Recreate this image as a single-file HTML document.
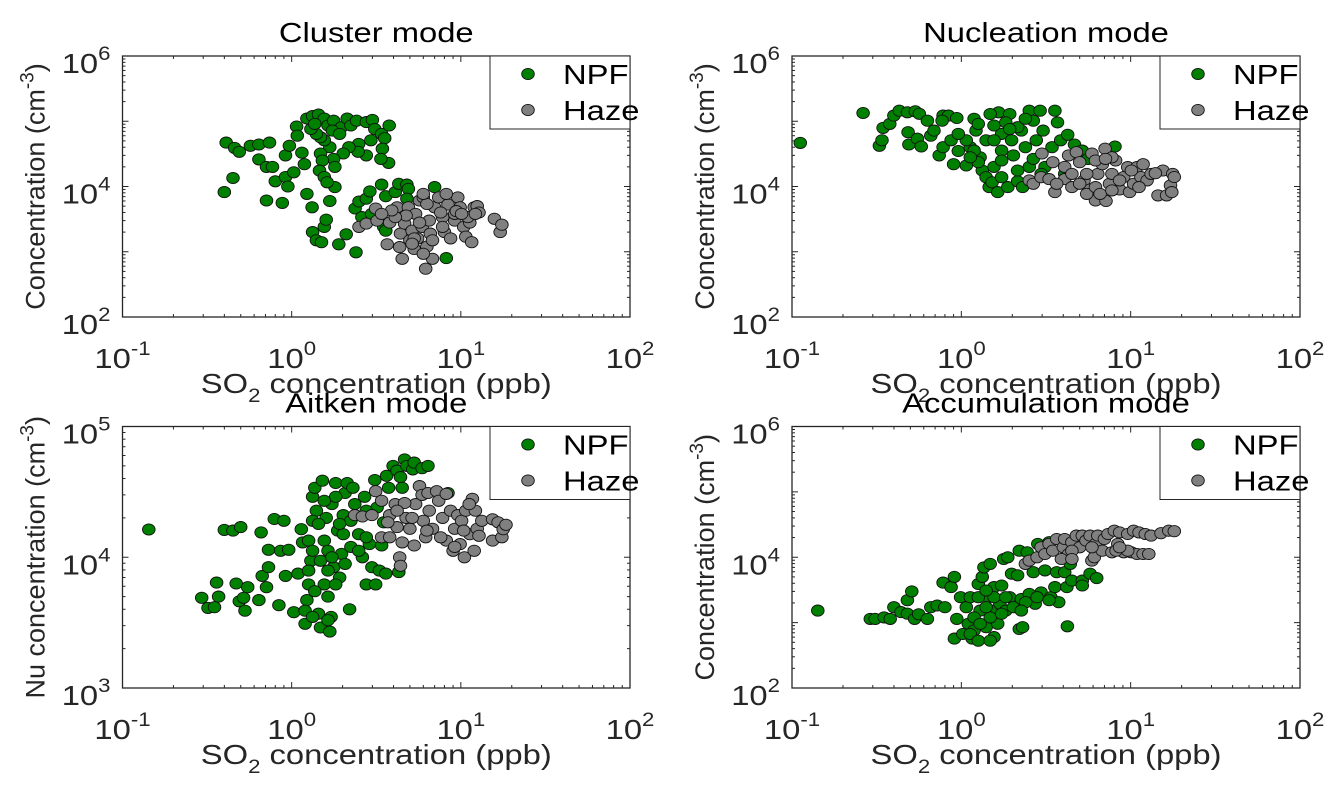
<!DOCTYPE html>
<html><head><meta charset="utf-8"><style>
html,body{margin:0;padding:0;background:#fff;}
svg{display:block;font-family:"Liberation Sans",Arial,sans-serif;}
</style></head><body>
<svg id="fig" width="1336" height="789" viewBox="0 0 1336 789" xmlns="http://www.w3.org/2000/svg"></svg>
<script>
// ---------- data ----------
const xTickExps = [-1, 0, 1, 2];
const seriesNames = ["NPF", "Haze"];
const panelTitles = ["Cluster mode", "Nucleation mode", "Aitken mode", "Accumulation mode"];

const clusterNpf = [[0.40,8200],[0.41,47000],[0.45,13500],[0.46,39000],[0.49,34000],[0.57,42000],[0.64,44000],[0.74,47000],[0.64,26000],[0.71,20000],[0.77,20000],[0.71,6100],[0.80,12000],[0.88,5600],[0.92,30000],[0.97,42000],[0.92,14000],[0.95,10000],[1.03,16500],[1.07,83000],[1.08,60000],[1.15,33000],[1.19,22000],[1.23,7700],[1.32,4800],[1.33,2000],[1.40,1500],[1.5,1400],[1.56,2400],[1.6,3100],[1.68,6000],[1.8,9800],[1.9,1300],[2.1,1850],[2.4,980],[2.37,4600],[2.5,5900],[2.76,6500],[2.9,8400],[3.4,10700],[3.6,7100],[4.1,8200],[4.3,11000],[4.8,10700],[4.9,9200],[4.8,6500],[7.0,9800],[8.2,800],[2.6,3400],[2.97,3800],[3.5,2400],[3.6,2100],[1.23,110000],[1.33,120000],[1.44,127000],[1.56,110000],[1.64,86000],[1.77,102000],[1.97,81000],[2.13,110000],[2.24,86000],[2.42,102000],[2.76,97000],[3.0,105000],[3.1,76000],[3.4,64000],[3.77,86000],[3.55,55000],[3.44,38000],[3.74,23000],[3.37,26500],[2.76,30000],[2.49,45000],[2.94,51000],[2.47,34000],[2.18,40000],[2.02,32000],[1.77,26500],[1.80,20000],[1.68,40000],[1.56,51000],[1.48,57000],[1.40,64000],[1.48,32000],[1.52,25000],[1.46,17500],[1.56,14000],[1.62,11600],[1.74,72000],[1.92,64000],[1.30,76000],[1.37,91000]];
const clusterHaze = [[3.14,4600],[2.5,2400],[2.76,2700],[3.2,3000],[3.67,1300],[3.8,2800],[4.2,4800],[4.4,1900],[4.5,780],[4.35,1180],[4.65,2700],[4.9,4800],[5.0,1500],[5.15,2100],[5.3,1100],[5.4,3800],[5.7,6100],[5.9,2400],[6.0,6800],[6.2,550],[6.3,1200],[6.5,3000],[6.6,1900],[6.8,780],[7.0,4800],[7.4,6800],[7.8,3400],[8.0,2000],[8.4,5300],[8.7,1600],[9.2,3000],[9.6,6800],[9.9,4800],[10.4,2400],[10.7,1700],[11.3,2800],[11.6,1400],[12.0,4800],[12.5,5000],[12.8,4000],[15.8,3200],[17.1,2000],[17.5,2600],[11.0,3400],[9.2,3800],[7.6,4000],[6.3,5400],[6.0,7700],[8.2,7700],[9.4,4200],[5.55,1600],[5.7,2800],[5.3,1600],[5.15,1330],[6.0,930],[6.8,1500],[7.8,2400],[10.1,3800],[12.2,3800],[4.75,3600],[4.1,3400],[3.9,4300],[3.4,3800]];

const nucNpf = [[0.112,46600],[0.263,134000],[0.328,42000],[0.34,51000],[0.345,79000],[0.378,91000],[0.40,122000],[0.43,145000],[0.48,137000],[0.535,142000],[0.565,130000],[0.63,102000],[0.485,68000],[0.49,44000],[0.55,54000],[0.58,41000],[0.66,60000],[0.69,72000],[0.78,122000],[0.84,122000],[0.94,112000],[0.77,102000],[0.74,30000],[0.78,40000],[0.87,51000],[0.90,22000],[0.96,35000],[1.07,21000],[1.13,40000],[1.19,109000],[1.22,72000],[1.29,28000],[1.33,17600],[1.4,13900],[1.46,9800],[1.52,11600],[1.64,8200],[1.56,20000],[1.66,137000],[1.48,129000],[1.73,64000],[1.88,9800],[1.93,129000],[1.98,51000],[2.15,12000],[2.26,72000],[2.3,9800],[2.52,145000],[2.66,102000],[2.77,51000],[2.92,145000],[3.04,72000],[3.12,20000],[3.43,40000],[3.57,145000],[3.7,96000],[3.86,51000],[4.25,62000],[4.66,44000],[5.18,35500],[8.08,41000],[5.6,26500],[4.08,15600],[2.96,15600],[2.52,20000],[1.26,91000],[1.56,86000],[1.83,96000],[2.15,81000],[2.39,109000],[1.4,51000],[1.73,35500],[2.03,30000],[1.56,51000],[1.93,76000],[1.19,35500],[1.07,51000],[0.96,64000],[1.73,25000],[2.39,40000],[2.66,26500],[2.15,17600],[1.73,13900],[1.26,23600],[1.13,28000]];
const nucHaze = [[2.99,32000],[3.47,23600],[3.57,8200],[4.08,13000],[4.3,30000],[4.78,33500],[5.0,23600],[5.3,12400],[5.77,9000],[5.9,32000],[6.2,6100],[6.4,15600],[6.8,22000],[7.06,38000],[7.15,6000],[7.5,11000],[7.75,15600],[8.15,25000],[8.6,9000],[9.1,14000],[9.6,19800],[9.85,8200],[10.4,11000],[10.9,19800],[11.5,14000],[11.85,22000],[12.5,12400],[13.2,15600],[14.5,7300],[15.5,17600],[16.3,7300],[17.2,10400],[17.7,15600],[18.1,14000],[17.5,8200],[2.52,12400],[2.66,11000],[2.96,13900],[3.3,13000],[3.66,11000],[4.5,9800],[5.0,11000],[5.5,7700],[6.2,9800],[6.6,7700],[7.75,8700],[8.6,12400],[6.2,25000],[7.75,28000],[10.1,17600],[4.08,20000],[4.5,15600],[5.5,15600],[11.2,9800],[14.0,16000],[7.1,26500]];

const aitNpf = [[0.143,16300],[0.294,4900],[0.32,4100],[0.35,4150],[0.36,6400],[0.37,5000],[0.40,16200],[0.45,16000],[0.47,6300],[0.49,4600],[0.50,17000],[0.52,4900],[0.53,3900],[0.55,5900],[0.64,4700],[0.66,15500],[0.67,7200],[0.71,5900],[0.73,11400],[0.73,8400],[0.79,19600],[0.84,4300],[0.86,11200],[0.90,19000],[0.92,7200],[0.96,11400],[1.03,3800],[1.09,7500],[1.14,16400],[1.16,13000],[1.2,3100],[1.23,4700],[1.26,6200],[1.3,9400],[1.33,29000],[1.37,34000],[1.40,22700],[1.44,3700],[1.48,2900],[1.52,38500],[1.56,13400],[1.6,20000],[1.64,5000],[1.68,2700],[1.71,3500],[1.73,25500],[1.77,8400],[1.82,37000],[1.87,16000],[1.92,7000],[1.97,10600],[2.02,21000],[2.07,31000],[2.13,37000],[2.2,4000],[2.24,12000],[2.3,34000],[2.36,25500],[2.49,15000],[2.62,10000],[2.7,29000],[2.76,6200],[2.88,12600],[2.98,8400],[3.1,39000],[3.14,6200],[3.2,24000],[3.3,7900],[3.4,12300],[3.5,18500],[3.6,7500],[3.64,42000],[3.74,34000],[3.98,50000],[4.2,46000],[4.3,7700],[4.4,41000],[4.5,34000],[4.65,56000],[4.8,50000],[5.2,47000],[5.3,53000],[5.9,48000],[6.4,50000],[8.4,31000],[1.33,19000],[1.26,13400],[1.33,11200],[1.48,9400],[1.64,7900],[1.56,6200],[1.37,5500],[1.82,6200],[1.2,3900],[1.33,3500],[1.64,3300],[1.26,7900],[1.64,11200],[1.73,10000],[2.02,15000],[2.24,19000],[2.49,11200],[2.76,14200],[1.82,29000],[1.56,27000],[1.44,18000],[1.92,18000],[2.07,8900],[2.76,22700]];
const aitHaze = [[2.36,21000],[2.62,20500],[2.98,21000],[3.14,32000],[3.4,27000],[3.4,14200],[3.8,14200],[3.8,21000],[4.1,25500],[4.2,17000],[4.35,10000],[4.4,8600],[4.5,13000],[4.75,20000],[5.0,16500],[5.3,12300],[5.4,25500],[5.7,35000],[5.9,30000],[6.0,19000],[6.2,14200],[6.4,31000],[6.5,22700],[6.8,16500],[7.2,32000],[7.4,27000],[7.8,20000],[8.2,13400],[8.7,22700],[9.0,11200],[9.2,16500],[9.6,21000],[9.9,12600],[10.1,19000],[10.5,10000],[10.7,22700],[11.3,15000],[11.7,28000],[12.0,11200],[12.2,22700],[12.5,16500],[12.8,14600],[13.3,19000],[15.4,19500],[15.4,13400],[16.6,18500],[17.5,14200],[17.8,16400],[18.5,17700],[5.15,20000],[4.65,26000],[6.3,16000],[7.6,14200],[9.2,12000],[10.4,16000],[4.2,22700],[11.2,25500],[8.2,30500],[3.7,18500]];

const accNpf = [[0.142,1530],[0.29,1140],[0.31,1140],[0.35,1200],[0.38,1140],[0.40,1720],[0.44,1450],[0.48,2200],[0.51,3000],[0.48,1370],[0.53,1140],[0.56,1340],[0.63,1140],[0.66,1720],[0.72,1830],[0.78,4100],[0.80,1720],[0.87,3500],[0.91,5000],[0.94,1140],[0.91,570],[0.99,2450],[1.02,670],[1.07,1720],[1.10,960],[1.13,2450],[1.16,570],[1.19,760],[1.26,3900],[1.29,1530],[1.33,5000],[1.36,7000],[1.4,850],[1.44,2450],[1.48,7900],[1.52,1530],[1.56,600],[1.56,3500],[1.64,960],[1.69,1940],[1.73,3700],[1.78,9400],[1.83,1530],[1.88,10000],[1.93,2450],[1.98,5600],[2.15,5300],[2.2,12600],[2.2,800],[2.3,850],[2.26,2300],[2.45,11900],[2.52,2750],[2.66,5900],[2.73,1940],[2.83,16000],[2.96,2900],[3.12,6300],[3.3,17000],[3.38,2450],[3.57,3500],[3.66,5900],[3.76,2050],[4.08,5900],[4.2,3500],[4.23,880],[4.4,7900],[4.5,4400],[5.18,4400],[5.18,3700],[5.76,5600],[6.3,4800],[1.19,1200],[1.29,960],[1.48,1200],[1.73,1370],[2.03,1720],[2.4,2050],[2.8,2450],[3.3,2200],[2.26,1530],[1.4,1720],[1.56,2450],[1.83,2450],[1.13,670],[1.26,530],[1.48,530],[1.26,2450],[1.4,3100]];
const accHaze = [[2.39,7900],[2.52,8900],[2.8,10000],[2.96,14200],[3.12,11200],[3.3,16000],[3.47,12600],[3.66,19000],[4.0,14200],[4.08,19000],[4.3,11200],[4.5,17000],[4.78,21400],[5.0,14200],[5.18,21400],[5.45,18000],[5.76,21400],[5.9,8900],[6.1,10000],[6.2,16000],[6.4,21400],[6.8,12600],[7.0,19000],[7.35,22700],[7.75,11900],[8.0,25500],[8.4,16000],[8.6,24000],[9.1,11900],[9.6,22700],[10.1,11900],[10.4,25500],[10.9,11200],[11.2,24000],[11.85,11200],[12.2,22700],[12.8,11200],[13.2,21400],[15.1,23300],[16.8,25500],[18.1,25000],[3.9,9400],[4.5,12600],[8.2,12600],[9.6,12600],[8.6,14200],[5.9,14200],[4.5,9400]];

// ---------- layout ----------
const panels = [
  {title:panelTitles[0], L:122.5, R:630, T:56, B:317, yMin:2, yMax:6, ylabel:"Concentration (cm", npf:clusterNpf, haze:clusterHaze, key:"cluster"},
  {title:panelTitles[1], L:792, R:1300, T:56, B:317, yMin:2, yMax:6, ylabel:"Concentration (cm", npf:nucNpf, haze:nucHaze, key:"nucleation"},
  {title:panelTitles[2], L:122.5, R:630, T:426.5, B:688, yMin:3, yMax:5, ylabel:"Nu concentration (cm", npf:aitNpf, haze:aitHaze, key:"aitken"},
  {title:panelTitles[3], L:792, R:1300, T:426.5, B:688, yMin:2, yMax:6, ylabel:"Concentration (cm", npf:accNpf, haze:accHaze, key:"accumulation"}
];
const NS = "http://www.w3.org/2000/svg";
const svg = document.getElementById('fig');
const SX = 1.17, FS = 28, SUP = 19;
function mk(tag, attrs, parent){ const e=document.createElementNS(NS,tag); for(const k in attrs) e.setAttribute(k,attrs[k]); (parent||svg).appendChild(e); return e; }
function txt(parent, x, y, anchor, fill){ return mk('text',{x:0,y:0,'font-size':FS,fill:fill||'#262626','text-anchor':anchor,transform:`translate(${x} ${y}) scale(${SX} 1)`},parent); }

panels.forEach((p)=>{
  const g = mk('g',{});
  
  
  const xS = v => p.L + (Math.log10(v)+1)/3*(p.R-p.L);
  const yS = v => p.B - (Math.log10(v)-p.yMin)/(p.yMax-p.yMin)*(p.B-p.T);
  const tg = mk('g',{stroke:'#262626','stroke-width':1},g);
  for(let e=-1;e<2;e++){ for(let m=1;m<10;m++){ const v=m*Math.pow(10,e); const x=xS(v); const len=m===1?6:3;
    mk('line',{x1:x,y1:p.B,x2:x,y2:p.B-len},tg); mk('line',{x1:x,y1:p.T,x2:x,y2:p.T+len},tg);} }
  for(let e=p.yMin;e<p.yMax;e++){ for(let m=1;m<10;m++){ const v=m*Math.pow(10,e); const y=yS(v); const len=m===1?6:3;
    mk('line',{x1:p.L,y1:y,x2:p.L+len,y2:y},tg); mk('line',{x1:p.R,y1:y,x2:p.R-len,y2:y},tg);} }
  const drawSeries=(arr,fill,name)=>{
    const sg=mk('g',{},g);
    
    
    arr.forEach(d=>{ const c=mk('ellipse',{cx:xS(d[0]).toFixed(1),cy:yS(d[1]).toFixed(1),rx:6.3,ry:5.6,fill:fill,stroke:'#111','stroke-width':0.9},sg);
      
       });
  };
  drawSeries(p.npf,'#008000','npf');
  drawSeries(p.haze,'#808080','haze');
  const box=mk('rect',{x:p.L,y:p.T,width:p.R-p.L,height:p.B-p.T,fill:'none',stroke:'#262626','stroke-width':1.3},g);
  
  
  xTickExps.forEach(e=>{ const x=xS(Math.pow(10,e));
    const t=txt(g, x, p.B+51, 'middle');
    
    
    t.appendChild(document.createTextNode('10')); const s=mk('tspan',{dy:-13,'font-size':SUP},t); s.textContent=String(e); });
  for(let e=p.yMin;e<=p.yMax;e+=(p.yMax-p.yMin)/2){ const y=yS(Math.pow(10,e));
    const t=txt(g, p.L-12, y+17, 'end');
    
    
    t.appendChild(document.createTextNode('10')); const s=mk('tspan',{dy:-13,'font-size':SUP},t); s.textContent=String(e); }
  const tt=txt(g, (p.L+p.R)/2, p.T-14, 'middle', '#000');
  
  
  tt.textContent=p.title;
  const xt=txt(g, (p.L+p.R)/2, p.B+76, 'middle');
  
  
  xt.appendChild(document.createTextNode('SO'));
  const sub=mk('tspan',{dy:9,'font-size':SUP},xt); sub.textContent='2';
  const rest=mk('tspan',{dy:-9},xt); rest.textContent=' concentration (ppb)';
  const cy=(p.T+p.B)/2, cx=p.L-78;
  const yt=mk('text',{x:cx,y:cy,'font-size':27,fill:'#262626','text-anchor':'middle',transform:`rotate(-90 ${cx} ${cy}) scale(1 1)`},g);
  
  
  yt.appendChild(document.createTextNode(p.ylabel));
  const sup=mk('tspan',{dy:-11,'font-size':SUP},yt); sup.textContent='-3';
  const cl=mk('tspan',{dy:11},yt); cl.textContent=')';
  const lw=140, lx=p.R-lw, ly=p.T;
  const lg=mk('g',{},g);
  
  
  mk('rect',{x:lx,y:ly,width:lw,height:73,fill:'#fff',stroke:'#262626','stroke-width':1},lg);
  seriesNames.forEach((n,i)=>{
    const yy=ly+18+i*36;
    const c=mk('ellipse',{cx:lx+38,cy:yy,rx:6.3,ry:5.6,fill:i===0?'#008000':'#808080',stroke:'#111','stroke-width':0.9},lg);
    
    
    const t=txt(lg, lx+73, yy+10, 'start', '#000');
    
    
    t.textContent=n;
  });
});
</script>
</body></html>
